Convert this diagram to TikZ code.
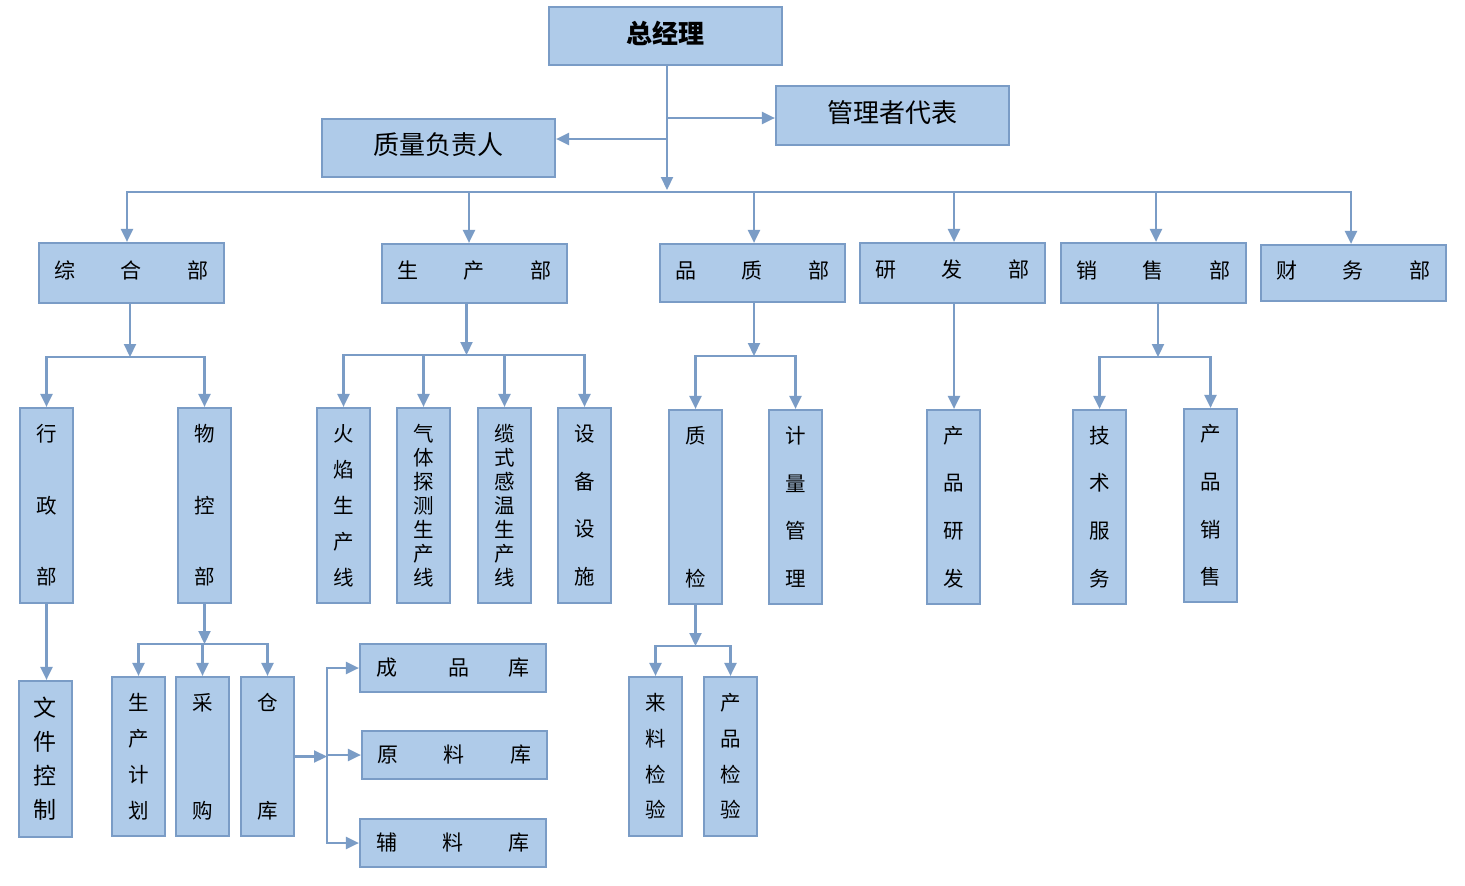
\documentclass[tikz,border=0pt]{standalone}
\usepackage{fontspec}
\setmainfont{Noto Sans CJK SC}
\usetikzlibrary{arrows.meta,calc}
\definecolor{bg}{HTML}{AFCBE9}
\definecolor{bd}{HTML}{7A9CC6}
\newcommand\liftup[2]{\raisebox{#1}[\height][\depth]{#2}}
\newcommand\three[4]{#1\hspace{#4}#2\hspace{#4}#3}
\newcommand\mybox[7]{\node[#6,minimum width={#4-#2},minimum height={#5-#3}] (#1) at ({(#2+#4)/2},{(#3+#5)/2}) {#7};}
\tikzset{
  box/.style={draw=bd,fill=bg,line width=2.2pt,inner sep=0pt},
  hb/.style={box,font=\fontsize{21}{24}\selectfont},
  big/.style={box,font=\fontsize{26}{30}\selectfont},
  vb/.style={box,align=center,font=\fontsize{20.5}{#1}\selectfont},
  vbig/.style={box,align=center,font=\fontsize{23}{#1}\selectfont},
  conn/.style={draw=bd,line width=2.2pt},
  tip/.tip={Triangle[length=13pt,width=12pt]},
  arr/.style={conn,-tip},
  arr2/.style={conn,tip-tip},
}
\begin{document}
\begin{tikzpicture}[x=1pt,y=-1pt]
\useasboundingbox[fill=white] (0,0) rectangle (1465,886);
% top
\mybox{zjl}{549}{7}{782}{65}{big}{\liftup{3pt}{\bfseries 总经理}}
\mybox{gl}{776}{86}{1009}{145}{big}{\liftup{3pt}{管理者代表}}
\mybox{zl}{322}{119}{555}{177}{big}{\liftup{3pt}{质量负责人}}
% level 2
\mybox{zh}{39}{243}{224}{303}{hb}{\liftup{3pt}{\three{综}{合}{部}{45.5pt}}}
\mybox{sc}{382}{244}{567}{303}{hb}{\liftup{3pt}{\three{生}{产}{部}{45.5pt}}}
\mybox{pz}{660}{244}{845}{302}{hb}{\liftup{3pt}{\three{品}{质}{部}{45.5pt}}}
\mybox{yf}{860}{243}{1045}{303}{hb}{\liftup{3pt}{\three{研}{发}{部}{45.5pt}}}
\mybox{xs}{1061}{243}{1246}{303}{hb}{\liftup{3pt}{\three{销}{售}{部}{45.5pt}}}
\mybox{cw}{1261}{245}{1446}{301}{hb}{\liftup{3pt}{\three{财}{务}{部}{45.5pt}}}
% level 3
\mybox{xz}{20}{408}{73}{603}{vb=71.5}{行\\政\\部}
\mybox{wk}{178}{408}{231}{603}{vb=71.5}{物\\控\\部}
\mybox{hy}{317}{408}{370}{603}{vb=36}{火\\焰\\生\\产\\线}
\mybox{qt}{397}{408}{450}{603}{vb=24}{气\\体\\探\\测\\生\\产\\线}
\mybox{ls}{478}{408}{531}{603}{vb=24}{缆\\式\\感\\温\\生\\产\\线}
\mybox{sb}{558}{408}{611}{603}{vb=47.5}{设\\备\\设\\施}
\mybox{zj}{669}{410}{722}{604}{vb=143}{质\\检}
\mybox{jl}{769}{410}{822}{604}{vb=47.7}{计\\量\\管\\理}
\mybox{cy}{927}{410}{980}{604}{vb=47.7}{产\\品\\研\\发}
\mybox{js}{1073}{410}{1126}{604}{vb=47.7}{技\\术\\服\\务}
\mybox{cx}{1184}{409}{1237}{602}{vb=47.7}{产\\品\\销\\售}
% level 4
\mybox{wj}{19}{681}{72}{837}{vbig=34}{文\\件\\控\\制}
\mybox{sj}{112}{677}{165}{836}{vb=36}{生\\产\\计\\划}
\mybox{cg}{176}{677}{229}{836}{vb=108}{采\\购}
\mybox{ck}{241}{677}{294}{836}{vb=108}{仓\\库}
\mybox{cp}{360}{644}{546}{692}{hb}{成\hspace{52pt}品\hspace{39pt}库}
\mybox{yl}{362}{731}{547}{779}{hb}{\three{原}{料}{库}{45.5pt}}
\mybox{fl}{360}{819}{546}{867}{hb}{\three{辅}{料}{库}{45pt}}
\mybox{ll}{629}{677}{682}{836}{vb=35.7}{来\\料\\检\\验}
\mybox{cj}{704}{677}{757}{836}{vb=35.7}{产\\品\\检\\验}
% top connectors
\coordinate (t1) at ([xshift=1.5pt]zjl.south |- 0,118);
\coordinate (t2) at ([xshift=1.5pt]zjl.south |- 0,139);
\coordinate (ts) at ([xshift=1.5pt]zjl.south);
\coordinate (tb) at (ts |- 0,190);
\coordinate (bus) at (0,192);
\draw[arr] (ts) -- (tb);
\draw[arr] (t1) -- (gl.west |- t1);
\draw[arr] (t2) -- (zl.east |- t2);
\coordinate (zhn) at ([xshift=-4.5pt]zh.north);
\coordinate (scn) at ([xshift=-5.5pt]sc.north);
\coordinate (pzn) at ([xshift=1.5pt]pz.north);
\coordinate (yfn) at ([xshift=1.5pt]yf.north);
\coordinate (xsn) at ([xshift=2.5pt]xs.north);
\coordinate (cwn) at ([xshift=-2.5pt]cw.north);
\draw[arr2] (zhn) -- (zhn |- bus) -- (cwn |- bus) -- (cwn);
\foreach \n in {scn,pzn,yfn,xsn} {\draw[arr] (\n |- bus) -- (\n);}
% zonghe
\coordinate (zhs) at ([xshift=-1.5pt]zh.south);
\coordinate (zhj) at (zhs |- 0,357);
\draw[arr] (zhs) -- (zhj);
\draw[arr2] (xz.north) -- (xz.north |- zhj) -- (wk.north |- zhj) -- (wk.north);
\draw[arr] (xz.south) -- (xz.south |- wj.north);
\coordinate (wkj) at (wk.south |- 0,644);
\draw[arr] (wk.south) -- (wkj);
\draw[arr2] (sj.north) -- (sj.north |- wkj) -- (ck.north |- wkj) -- (ck.north);
\draw[arr] (cg.north |- wkj) -- (cg.north);
\coordinate (kv) at (327,0);
\draw[arr] (ck.east) -- (ck.east -| kv);
\draw[arr2] (cp.west) -- (cp.west -| kv) -- (fl.west -| kv) -- (fl.west);
\draw[arr] (yl.west -| kv) -- (yl.west);
% shengchan
\coordinate (scs) at ([xshift=-8pt]sc.south);
\coordinate (scj) at (scs |- 0,355);
\draw[arr] (scs) -- (scj);
\draw[arr2] (hy.north) -- (hy.north |- scj) -- (sb.north |- scj) -- (sb.north);
\draw[arr] (qt.north |- scj) -- (qt.north);
\draw[arr] (ls.north |- scj) -- (ls.north);
% pinzhi
\coordinate (pzs) at ([xshift=1.5pt]pz.south);
\coordinate (pzj) at (pzs |- 0,356);
\draw[arr] (pzs) -- (pzj);
\draw[arr2] (zj.north) -- (zj.north |- pzj) -- (jl.north |- pzj) -- (jl.north);
\coordinate (zjj) at (zj.south |- 0,646);
\draw[arr] (zj.south) -- (zjj);
\draw[arr2] (ll.north) -- (ll.north |- zjj) -- (cj.north |- zjj) -- (cj.north);
% yanfa
\coordinate (yfs) at ([xshift=1.5pt]yf.south);
\draw[arr] (yfs) -- (yfs |- cy.north);
% xiaoshou
\coordinate (xss) at ([xshift=4.5pt]xs.south);
\coordinate (xsj) at (xss |- 0,357);
\draw[arr] (xss) -- (xsj);
\draw[arr2] (js.north) -- (js.north |- xsj) -- (cx.north |- xsj) -- (cx.north);
\end{tikzpicture}
\end{document}
